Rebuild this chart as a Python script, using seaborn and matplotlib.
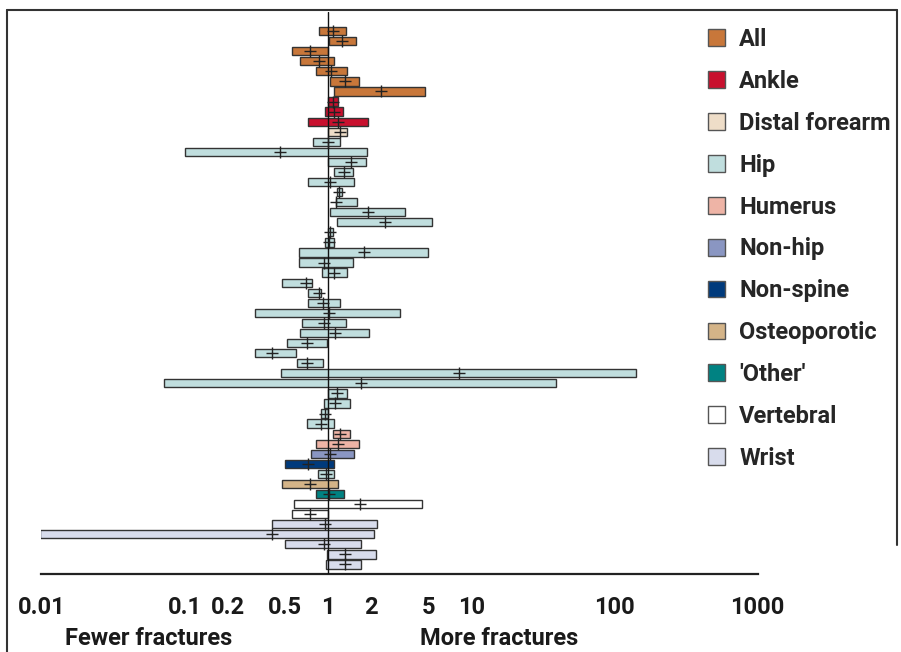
import matplotlib
matplotlib.use("Agg")
import matplotlib.pyplot as plt
from matplotlib.patches import Patch
from matplotlib.lines import Line2D
import seaborn as sns
import pandas as pd
import numpy as np

# Fracture site for each study row (top to bottom)
site = (["All"] * 7 + ["Ankle"] * 3 + ["Distal forearm"] + ["Hip"] * 29
        + ["Humerus"] * 2 + ["Non-hip", "Non-spine", "Hip", "Osteoporotic", "'Other'"]
        + ["Vertebral"] * 2 + ["Wrist"] * 5)

# Point estimate and 95% confidence limits for each row
est = [1.08, 1.26, 0.75, 0.87, 1.05, 1.32, 2.34,
       1.09, 1.10, 1.18,
       1.21,
       1.00, 0.46, 1.45, 1.29, 1.04, 1.20, 1.13, 1.90, 2.50, 1.04, 1.02, 1.79, 0.94, 1.10,
       0.70, 0.86, 0.92, 1.02, 0.94, 1.12, 0.72, 0.41, 0.71, 8.2, 1.70, 1.15, 1.12, 0.96, 0.89,
       1.22, 1.17,
       1.04, 0.73, 0.97, 0.75, 1.01,
       1.67, 0.75,
       0.96, 0.41, 0.94, 1.32, 1.32]
lo = [0.87, 1.01, 0.56, 0.64, 0.82, 1.03, 1.11,
      1.00, 0.95, 0.73,
      1.00,
      0.79, 0.10, 1.00, 1.10, 0.73, 1.15, 1.13, 1.04, 1.15, 1.00, 0.96, 0.63, 0.63, 0.91,
      0.48, 0.73, 0.73, 0.31, 0.66, 0.64, 0.52, 0.31, 0.61, 0.47, 0.072, 1.00, 0.94, 0.90, 0.71,
      1.08, 0.82,
      0.76, 0.50, 0.85, 0.48, 0.83,
      0.58, 0.56,
      0.41, 0.0098, 0.50, 0.99, 0.97]
hi = [1.33, 1.56, 1.00, 1.10, 1.35, 1.65, 4.75,
      1.18, 1.27, 1.91,
      1.35,
      1.22, 1.88, 1.85, 1.49, 1.51, 1.25, 1.60, 3.43, 5.35, 1.08, 1.10, 4.99, 1.50, 1.35,
      0.78, 0.90, 1.21, 3.16, 1.33, 1.94, 0.99, 0.60, 0.92, 141, 39, 1.35, 1.43, 1.00, 1.10,
      1.42, 1.64,
      1.52, 1.11, 1.11, 1.17, 1.30,
      4.53, 1.00,
      2.21, 2.11, 1.69, 2.17, 1.71]

sites = ["All", "Ankle", "Distal forearm", "Hip", "Humerus", "Non-hip", "Non-spine",
         "Osteoporotic", "'Other'", "Vertebral", "Wrist"]
site_colors = ["#C8773A", "#C8102E", "#EEDDC8", "#C0DEDE", "#EEB4A6", "#8A96C2",
               "#003A7C", "#D4B488", "#008282", "#FFFFFF", "#D8DCEC"]
tick_values = [0.01, 0.1, 0.2, 0.5, 1, 2, 5, 10, 100, 1000]
tick_labels = ["0.01", "0.1", "0.2", "0.5", "1", "2", "5", "10", "100", "1000"]

palette = dict(zip(sites, site_colors))
df = pd.DataFrame({"site": site, "est": est, "lo": lo, "hi": hi})
df["row"] = np.arange(len(df))

sns.set_style("white")
plt.rcParams["font.family"] = ["Roboto", "DejaVu Sans"]

W, H = 901, 652
fig = plt.figure(figsize=(W / 100, H / 100), dpi=100)
ax = fig.add_axes([41.4 / W, 1 - 574 / H, (757.7 - 41.4) / W, (574 - 12) / H])
ax.set_xscale("log")

# Confidence-interval bars
ax.barh(df["row"], df["hi"] - df["lo"], left=df["lo"], height=0.82,
        color=[palette[s] for s in df["site"]], edgecolor="#333333", linewidth=1.0,
        zorder=2)

# Point estimates
sns.scatterplot(data=df, x="est", y="row", marker="+", s=80, color="#222222",
                linewidth=1.0, ax=ax, zorder=4, legend=False)

# Line of no effect
ax.axvline(1, color="#111111", linewidth=1.0, zorder=3)

ax.set_xlim(0.01, 1000)
ax.set_ylim(53.95, -1.9)
ax.set_xticks(tick_values)
ax.set_xticklabels(tick_labels)
ax.minorticks_off()
ax.set_yticks([])
ax.set_xlabel("")
ax.set_ylabel("")
for s in ["top", "right", "left"]:
    ax.spines[s].set_visible(False)
ax.spines["bottom"].set_linewidth(1.6)
ax.spines["bottom"].set_color("#222222")
ax.tick_params(axis="x", direction="out", length=7, width=1.6, color="#222222",
               pad=9, labelsize=17, labelcolor="#1a1a1a")
for lbl in ax.get_xticklabels():
    lbl.set_fontweight("bold")

fig.text(65 / W, 1 - 645 / H, "Fewer fractures", fontsize=17, fontweight="semibold",
         color="#1a1a1a", ha="left", va="baseline")
fig.text(420 / W, 1 - 645 / H, "More fractures", fontsize=17, fontweight="semibold",
         color="#1a1a1a", ha="left", va="baseline")

handles = [Patch(facecolor=c, edgecolor="#555555", linewidth=1.0) for c in site_colors]
fig.legend(handles, sites, loc="upper left", bbox_to_anchor=(708 / W, 1 - 28 / H),
           frameon=False, prop={"weight": "bold", "size": 17},
           handlelength=0.72, handleheight=0.72, handletextpad=0.6,
           labelspacing=0.8, borderpad=0, borderaxespad=0)

# Outer frame
frame_color = "#333333"
fig.add_artist(Line2D([7 / W, 7 / W], [0, 1 - 10 / H], transform=fig.transFigure,
                      color=frame_color, linewidth=1.5))
fig.add_artist(Line2D([7 / W, 897 / W], [1 - 10 / H, 1 - 10 / H], transform=fig.transFigure,
                      color=frame_color, linewidth=1.5))
fig.add_artist(Line2D([897 / W, 897 / W], [1 - 10 / H, 1 - 545 / H], transform=fig.transFigure,
                      color=frame_color, linewidth=1.5))

fig.savefig("out.png", dpi=100)
